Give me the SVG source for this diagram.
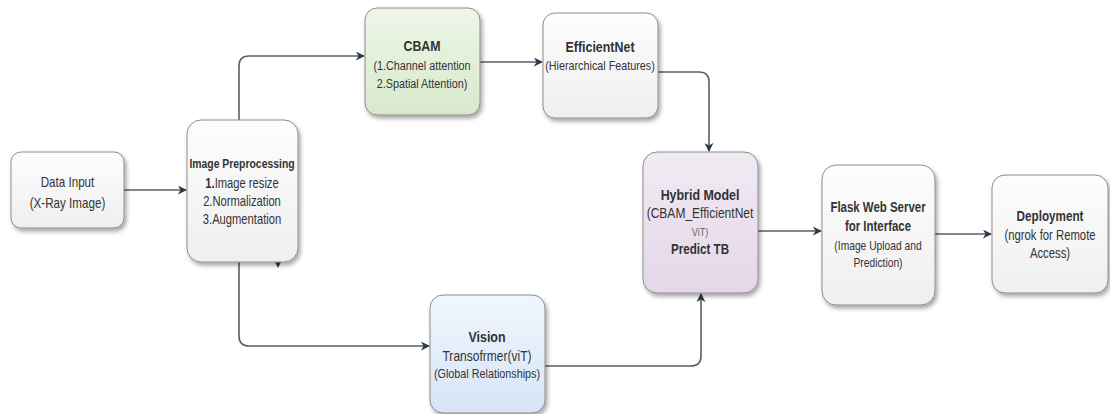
<svg xmlns="http://www.w3.org/2000/svg" width="1110" height="414" viewBox="0 0 1110 414">
<style>
.box{stroke:#8c8c8c;stroke-width:1;filter:url(#sh)}
.t{font-family:"Liberation Sans",Arial,sans-serif;fill:#333;text-anchor:middle}
.h{font-size:14px;font-weight:bold}
.s{font-size:12.5px}
.r{font-size:14px}
.c{fill:none;stroke:#5a5f66;stroke-width:1.6}
.a{fill:#2c3a4b}
</style>
<defs>
<filter id="sh" x="-20%" y="-20%" width="150%" height="150%">
<feDropShadow dx="2" dy="3" stdDeviation="2" flood-color="#000" flood-opacity="0.35"/>
</filter>
<linearGradient id="gw" x1="0" y1="0" x2="0" y2="1"><stop offset="0" stop-color="#fdfdfd"/><stop offset="1" stop-color="#efefef"/></linearGradient>
<linearGradient id="gg" x1="0" y1="0" x2="0" y2="1"><stop offset="0" stop-color="#eef6e8"/><stop offset="1" stop-color="#d7e9cb"/></linearGradient>
<linearGradient id="gp" x1="0" y1="0" x2="0" y2="1"><stop offset="0" stop-color="#f1eaf3"/><stop offset="1" stop-color="#e4d7e8"/></linearGradient>
<linearGradient id="gb" x1="0" y1="0" x2="0" y2="1"><stop offset="0" stop-color="#f1f6fd"/><stop offset="1" stop-color="#d6e4f6"/></linearGradient>
<marker id="ar" viewBox="0 0 10 10" refX="9" refY="5" markerWidth="9" markerHeight="9" markerUnits="userSpaceOnUse" orient="auto">
<path d="M0,0 L10,5 L0,10 L3,5 Z" class="a"/>
</marker>
</defs>

<g id="connectors">
<path class="c" d="M124,190 H186" marker-end="url(#ar)"/>
<path class="c" d="M239,120 V66 Q239,56 249,56 H364" marker-end="url(#ar)"/>
<path class="c" d="M239,262 V336 Q239,346 249,346 H429" marker-end="url(#ar)"/>
<path class="c" d="M480,62 H542" marker-end="url(#ar)"/>
<path class="c" d="M658,72 H699 Q709,72 709,82 V151" marker-end="url(#ar)"/>
<path class="c" d="M545,366 H691 Q701,366 701,356 V294" marker-end="url(#ar)"/>
<path class="c" d="M758,231 H821" marker-end="url(#ar)"/>
<path class="c" d="M935,234 H991" marker-end="url(#ar)"/>
<path class="a" d="M275,262 L281,262 L278,268 Z"/>
</g>

<g id="data-input">
<rect class="box" x="11" y="152" width="113" height="76" rx="10" fill="url(#gw)"/>
<g transform="translate(67.5,0) scale(0.83,1)">
<text class="t r" x="0" y="187">Data Input</text>
<text class="t r" x="0" y="208">(X-Ray Image)</text>
</g>
</g>

<g id="image-preprocessing">
<rect class="box" x="187" y="120" width="111" height="142" rx="14" fill="url(#gw)"/>
<g transform="translate(242,0) scale(0.8,1)">
<text class="t h" x="0" y="168" style="font-size:13px">Image Preprocessing</text>
<text class="t r" x="0" y="188"><tspan font-weight="bold">1.</tspan>Image resize</text>
<text class="t r" x="0" y="206">2.Normalization</text>
<text class="t r" x="0" y="224">3.Augmentation</text>
</g>
</g>

<g id="cbam">
<rect class="box" x="365" y="8" width="115" height="107" rx="12" fill="url(#gg)"/>
<g transform="translate(422,0) scale(0.8,1)">
<text class="t h" x="0" y="51" style="font-size:15.5px">CBAM</text>
<text class="t r" x="0" y="70" style="font-size:13.5px">(1.Channel attention</text>
<text class="t r" x="0" y="88" style="font-size:13.5px">2.Spatial Attention)</text>
</g>
</g>

<g id="efficientnet">
<rect class="box" x="543" y="13" width="115" height="105" rx="12" fill="url(#gw)"/>
<g transform="translate(600,0) scale(0.83,1)">
<text class="t h" x="0" y="52" style="font-size:15px">EfficientNet</text>
<text class="t s" x="0" y="70" style="font-size:13px">(Hierarchical Features)</text>
</g>
</g>

<g id="hybrid-model">
<rect class="box" x="643" y="152" width="115" height="141" rx="14" fill="url(#gp)"/>
<g transform="translate(700,0) scale(0.83,1)">
<text class="t h" x="0" y="200" style="font-size:15px">Hybrid Model</text>
<text class="t r" x="0" y="218" style="font-size:14.5px">(CBAM_EfficientNet</text>
<text class="t" x="0" y="236" style="font-size:11px;fill:#666">ViT)</text>
<text class="t h" x="0" y="254" style="font-size:14px">Predict TB</text>
</g>
</g>

<g id="flask">
<rect class="box" x="822" y="165" width="113" height="140" rx="14" fill="url(#gw)"/>
<g transform="translate(878,0) scale(0.79,1)">
<text class="t h" x="0" y="212" style="font-size:14.5px">Flask Web Server</text>
<text class="t h" x="0" y="231" style="font-size:14.5px">for  Interface</text>
<text class="t s" x="0" y="250" style="font-size:13px">(Image Upload and</text>
<text class="t s" x="0" y="267" style="font-size:13px">Prediction)</text>
</g>
</g>

<g id="deployment">
<rect class="box" x="992" y="175" width="116" height="118" rx="13" fill="url(#gw)"/>
<g transform="translate(1050,0) scale(0.78,1)">
<text class="t h" x="0" y="221" style="font-size:15px">Deployment</text>
<text class="t r" x="0" y="240" style="font-size:14.5px">(ngrok for Remote</text>
<text class="t r" x="0" y="258" style="font-size:14.5px">Access)</text>
</g>
</g>

<g id="vision-transformer">
<rect class="box" x="430" y="295" width="115" height="118" rx="13" fill="url(#gb)"/>
<g transform="translate(487,0) scale(0.83,1)">
<text class="t h" x="0" y="342" style="font-size:15px">Vision</text>
<text class="t r" x="0" y="361" style="font-size:14.5px">Transofrmer(viT)</text>
<text class="t s" x="0" y="378" style="font-size:13px">(Global Relationships)</text>
</g>
</g>
</svg>
